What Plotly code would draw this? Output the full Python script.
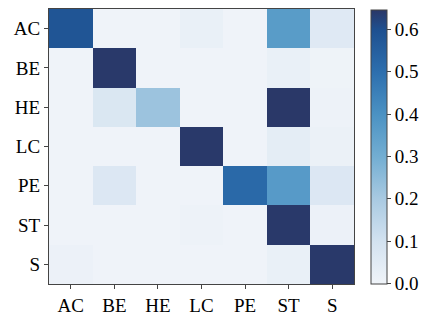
import plotly.graph_objects as go

labels = ["AC", "BE", "HE", "LC", "PE", "ST", "S"]

# rows = true class, columns = predicted class
row_AC = [0.585, 0.005, 0.005, 0.025, 0.005, 0.365, 0.06]
row_BE = [0.005, 0.644, 0.005, 0.005, 0.005, 0.025, 0.008]
row_HE = [0.005, 0.075, 0.225, 0.005, 0.005, 0.646, 0.01]
row_LC = [0.005, 0.005, 0.005, 0.644, 0.005, 0.04, 0.018]
row_PE = [0.005, 0.07, 0.005, 0.005, 0.52, 0.37, 0.07]
row_ST = [0.005, 0.005, 0.005, 0.012, 0.005, 0.644, 0.015]
row_S = [0.015, 0.005, 0.005, 0.005, 0.005, 0.025, 0.644]

z = [row_AC, row_BE, row_HE, row_LC, row_PE, row_ST, row_S]
zmax = 0.647

colorscale = [
    [0.0, "#f0f4f9"],
    [0.1 / zmax, "#d3e2f0"],
    [0.2 / zmax, "#a9cae2"],
    [0.3 / zmax, "#73aed2"],
    [0.4 / zmax, "#4b92c3"],
    [0.5 / zmax, "#2d6fae"],
    [0.6 / zmax, "#1e5090"],
    [1.0, "#2a3767"],
]

font = dict(family="Liberation Serif", size=19, color="black")

fig = go.Figure(
    go.Heatmap(
        z=z,
        x=labels,
        y=labels,
        zmin=0,
        zmax=zmax,
        colorscale=colorscale,
        xgap=0,
        ygap=0,
        colorbar=dict(
            x=1.055,
            xanchor="left",
            y=0.5,
            yanchor="middle",
            len=0.995,
            lenmode="fraction",
            thickness=16,
            outlinewidth=1,
            outlinecolor="#444",
            ticks="outside",
            ticklen=4,
            tickcolor="#444",
            tickvals=[0.0, 0.1, 0.2, 0.3, 0.4, 0.5, 0.6],
            ticktext=["0.0", "0.1", "0.2", "0.3", "0.4", "0.5", "0.6"],
            tickfont=font,
            xpad=0,
            ypad=0,
        ),
    )
)

axis_common = dict(
    showline=True,
    linecolor="#444",
    linewidth=1.2,
    mirror=True,
    ticks="outside",
    ticklen=4,
    tickcolor="#444",
    tickfont=font,
    showgrid=False,
    zeroline=False,
)

fig.update_layout(
    width=428,
    height=324,
    margin=dict(l=49, r=73, t=8, b=32),
    paper_bgcolor="white",
    plot_bgcolor="white",
    xaxis=dict(**axis_common),
    yaxis=dict(**axis_common, autorange="reversed"),
    font=font,
)

fig.write_html("out.html")
